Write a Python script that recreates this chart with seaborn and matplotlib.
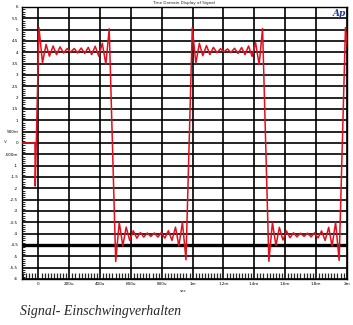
import numpy as np
import pandas as pd
import matplotlib
matplotlib.use("Agg")
import matplotlib.pyplot as plt
import seaborn as sns
from matplotlib.ticker import MultipleLocator

# ---- data (time in ms, level in V) ----
start_t = [-0.109, -0.023, -0.021]
start_v = [0.0, 0.0, -1.9]

high1_t = [0.003, 0.026, 0.049, 0.071, 0.095, 0.117, 0.140, 0.163, 0.186, 0.208, 0.232,
           0.254, 0.277, 0.300, 0.323, 0.345, 0.368, 0.391, 0.414, 0.437, 0.459]
high1_v = [5.09, 3.54, 4.35, 3.83, 4.28, 3.90, 4.24, 3.97, 4.17, 4.01, 4.17,
           3.97, 4.19, 3.95, 4.22, 3.90, 4.27, 3.83, 4.40, 3.48, 5.04]

low1_t = [0.501, 0.524, 0.547, 0.569, 0.592, 0.615, 0.638, 0.661, 0.683, 0.706, 0.729,
          0.752, 0.775, 0.797, 0.820, 0.843, 0.866, 0.889, 0.911, 0.934, 0.957]
low1_v = [-5.23, -3.50, -4.54, -3.71, -4.30, -3.87, -4.20, -3.95, -4.15, -3.97, -4.12,
          -3.97, -4.15, -3.95, -4.20, -3.87, -4.30, -3.71, -4.54, -3.50, -5.15]

high2_t = [0.998, 1.021, 1.044, 1.066, 1.090, 1.112, 1.135, 1.158, 1.181, 1.203, 1.227,
           1.249, 1.272, 1.295, 1.318, 1.340, 1.363, 1.386, 1.409, 1.432, 1.454]
high2_v = [5.09, 3.52, 4.40, 3.85, 4.30, 3.90, 4.22, 3.98, 4.16, 4.02, 4.15,
           3.99, 4.18, 3.95, 4.21, 3.90, 4.28, 3.82, 4.42, 3.46, 5.05]

low2_t = [1.495, 1.518, 1.541, 1.563, 1.586, 1.609, 1.632, 1.655, 1.677, 1.700, 1.723,
          1.746, 1.769, 1.791, 1.814, 1.837, 1.860, 1.883, 1.905, 1.928, 1.951]
low2_v = [-5.22, -3.52, -4.52, -3.72, -4.28, -3.88, -4.18, -3.96, -4.14, -3.98, -4.12,
          -3.98, -4.14, -3.96, -4.19, -3.88, -4.30, -3.72, -4.55, -3.50, -5.18]

end_t = [1.992, 2.015]
end_v = [5.09, 3.54]

y_ticks = [6, 5.5, 5, 4.5, 4, 3.5, 3, 2.5, 2, 1.5, 1, 0.5, 0, -0.5, -1, -1.5, -2,
           -2.5, -3, -3.5, -4, -4.5, -5, -5.5, -6]
y_labels = ["6", "5.5", "5", "4.5", "4", "3.5", "3", "2.5", "2", "1.5", "1", "500m", "0",
            "-500m", "-1", "-1.5", "-2", "-2.5", "-3", "-3.5", "-4", "-4.5", "-5", "-5.5", "-6"]
x_ticks = [0, 0.2, 0.4, 0.6, 0.8, 1.0, 1.2, 1.4, 1.6, 1.8, 2.0]
x_labels = ["0", "200u", "400u", "600u", "800u", "1m", "1.2m", "1.4m", "1.6m", "1.8m", "2m"]

title = "Time Domain Display of Signal"
caption = "Signal- Einschwingverhalten"

t_all = start_t + high1_t + low1_t + high2_t + low2_t + end_t
v_all = start_v + high1_v + low1_v + high2_v + low2_v + end_v
df = pd.DataFrame({"t": t_all, "v": v_all})

sns.set_style("white")
plt.rcParams["font.family"] = ["DejaVu Sans"]

fig = plt.figure(figsize=(3.53, 3.25), dpi=100)
ax = fig.add_axes([21.7 / 353, 1 - 279 / 325, (346.7 - 21.7) / 353, (279 - 7) / 325])

sns.lineplot(data=df, x="t", y="v", sort=False, estimator=None, ax=ax,
             color="#e0101c", linewidth=1.1, zorder=3)

ax.set_xlim(-0.109, 2.0)
ax.set_ylim(-6, 6)

ax.set_xticks(x_ticks)
ax.set_xticklabels(x_labels)
ax.set_yticks(y_ticks)
ax.set_yticklabels(y_labels)
ax.xaxis.set_minor_locator(MultipleLocator(0.02))
ax.yaxis.set_minor_locator(MultipleLocator(0.1))

ax.tick_params(axis="both", which="major", length=0, labelsize=3, pad=2.5, colors="black")
ax.tick_params(axis="x", which="minor", direction="in", length=4, width=0.9, bottom=True, top=False)
ax.tick_params(axis="y", which="minor", direction="in", length=2.2, width=0.7, left=True, right=False)

ax.grid(True, which="major", color="black", linewidth=1.2)
ax.axhline(-4.5, color="black", linewidth=2.4, zorder=2)
for s in ax.spines.values():
    s.set_color("black")
    s.set_linewidth(1.0)

ax.set_xlabel("")
ax.set_ylabel("")
fig.text(5 / 353, 1 - 142 / 325, "V", fontsize=3, ha="center", va="center")
fig.text(183 / 353, 1 - 291 / 325, "sec", fontsize=3, ha="center", va="center")
fig.text(183 / 353, 1 - 3 / 325, title, fontsize=3, ha="center", va="center")
fig.text(339 / 353, 1 - 13 / 325, "Ap", fontsize=6.5, color="#1c3a9c", ha="center", va="center",
         fontstyle="italic", fontweight="bold", family=["DejaVu Serif"])
fig.text(20 / 353, 1 - 311 / 325, caption, fontsize=10, ha="left", va="center",
         fontstyle="italic", family=["Liberation Serif"])

fig.savefig("out.png", dpi=100)
